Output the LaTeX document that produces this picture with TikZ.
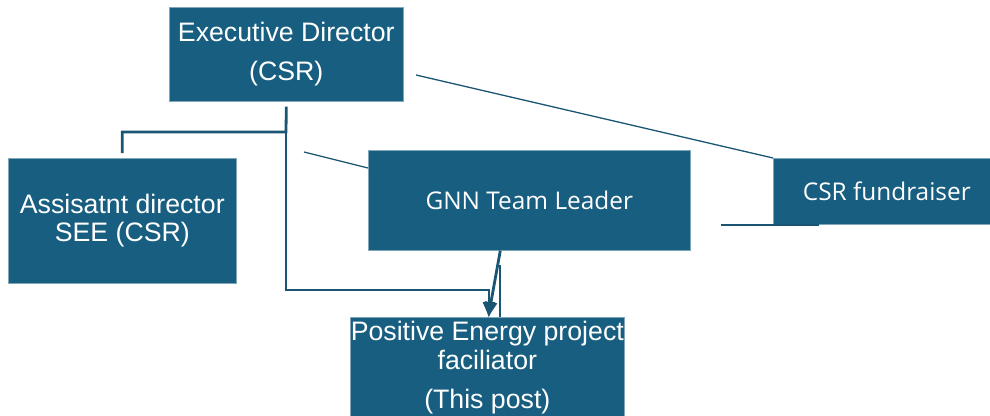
\documentclass[tikz,border=0pt]{standalone}
\usepackage{fontspec}
\setmainfont{Liberation Sans}
\newfontfamily\aptosfont{Open Sans}
\usetikzlibrary{arrows.meta}
\definecolor{boxblue}{HTML}{175E80}
\definecolor{linkblue}{HTML}{1A5674}
\begin{document}
\begin{tikzpicture}[x=1pt,y=-1pt,
  orgbox/.style={draw=boxblue!55!white, line width=0.6pt, fill=boxblue, text=white,
    inner sep=0pt, align=center, anchor=north west, font=\fontsize{26.7}{28}\selectfont},
  apbox/.style={orgbox, font=\aptosfont\fontsize{24.4}{28}\selectfont},
  thicklink/.style={draw=linkblue, line width=2.8pt},
  thinlink/.style={draw=linkblue, line width=1.3pt},
  tip/.style={-{Triangle[length=15pt,width=12pt]}}]
\useasboundingbox (0,0) rectangle (990,415);
\clip (0,0) rectangle (990,415);

\node[orgbox, minimum width=234pt, minimum height=94pt] (exec) at (169,7)
  {Executive Director\\[11pt](CSR)};
\node[orgbox, minimum width=228pt, minimum height=125pt] (asst) at (8,158)
  {Assisatnt director\\SEE (CSR)};
\node[apbox, minimum width=322pt, minimum height=100pt] (gnn) at (368,150)
  {GNN Team Leader};
\node[apbox, minimum width=227pt, minimum height=66pt] (csr) at (773,158)
  {CSR fundraiser};
\node[orgbox, minimum width=274pt, minimum height=100pt] (pos) at (350,317)
  {Positive Energy project\\[1pt]faciliator\\[11pt](This post)};

\coordinate (j1) at (286,132);
\coordinate (j2) at (286,290);
\coordinate (j3) at (489,290);
\coordinate (s1) at (304,152);
\coordinate (s2) at (416,75);
\coordinate (h1) at (721,225);
\coordinate (h2) at (819,225);
\coordinate (v1) at (500,265);

\draw[thicklink] ([yshift=-5pt]exec.south) -- (j1) -- (j1 -| asst.north) -- ([yshift=5pt]asst.north);
\draw[thicklink, tip] (j1) -- (j2) -- (j3) -- (j3 |- pos.north);
\draw[thicklink, tip] ([xshift=-29pt]gnn.south) -- ([xshift=1pt]pos.north);
\draw[thinlink] (v1) -- (v1 |- pos.north);
\draw[thinlink] (s1) -- ([yshift=-18pt]gnn.north west);
\draw[thinlink] (s2) -- (csr.north west);
\draw[thinlink] (h1) -- (h2);
\end{tikzpicture}
\end{document}
